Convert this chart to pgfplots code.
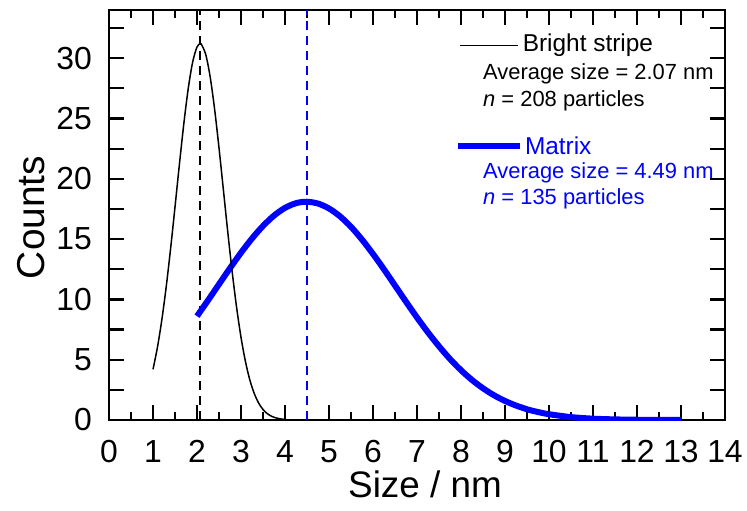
\documentclass[border=0pt]{standalone}
\usepackage{pgfplots}
\pgfplotsset{compat=1.18}
\usepackage{fontspec}
\setmainfont{Liberation Sans}

\definecolor{matblue}{RGB}{0,0,255}

\begin{document}
\begin{tikzpicture}
\begin{axis}[
  scale only axis, width=616bp, height=410bp,
  xmin=0, xmax=14, ymin=0, ymax=34,
  xtick={0,...,14}, minor x tick num=1,
  ytick={0,2.5,...,32.5}, yticklabels={0,,5,,10,,15,,20,,25,,30,},
  tick align=inside, major tick length=15bp, minor tick length=8bp,
  axis line style={line width=2.5bp},
  tick style={line width=2.2bp, black},
  ticklabel style={font=\fontsize{32}{34}\selectfont},
  xticklabel style={anchor=north, inner sep=0pt, yshift=-20bp},
  yticklabel style={anchor=east, inner sep=0pt, xshift=-17bp},
  /pgf/number format/assume math mode=true,
  xlabel={Size / nm}, ylabel={Counts},
  xlabel style={font=\fontsize{37}{40}\selectfont, at={(axis description cs:0.513,-0.19)}, anchor=base},
  ylabel style={font=\fontsize{39}{42}\selectfont, at={(axis description cs:-0.104,0.494)}, anchor=base},
]
% mean markers
\addplot[black, line width=2bp, dash pattern=on 9bp off 6bp] coordinates {(2.07,0) (2.07,34)};
\addplot[matblue, line width=2bp, dash pattern=on 9bp off 6bp] coordinates {(4.49,0) (4.49,34)};

% matrix fit
\addplot[matblue, line width=6bp, smooth] coordinates {
(2.00,8.61) (2.25,9.92) (2.50,11.26) (2.75,12.59) (3.00,13.87) (3.25,15.05)
(3.50,16.09) (3.75,16.95) (4.00,17.59) (4.25,17.98) (4.49,18.10) (4.75,17.95)
(5.00,17.54) (5.25,16.89) (5.50,16.02) (5.75,14.96) (6.00,13.77) (6.25,12.49)
(6.50,11.15) (6.75,9.81) (7.00,8.50) (7.25,7.26) (7.50,6.11) (7.75,5.06)
(8.00,4.13) (8.25,3.32) (8.50,2.63) (8.75,2.05) (9.00,1.58) (9.25,1.20)
(9.50,0.89) (9.75,0.66) (10.00,0.48) (10.50,0.24) (11.00,0.11) (11.50,0.05)
(12.00,0.02) (12.50,0.01) (13.00,0.00)};

% bright stripe fit
\addplot[black, line width=1.5bp, smooth] coordinates {
(1.0,4.20) (1.1,6.01) (1.2,8.29) (1.3,11.04) (1.4,14.21) (1.5,17.66)
(1.6,21.19) (1.7,24.55) (1.8,27.46) (1.9,29.66) (2.0,30.93) (2.07,31.20)
(2.1,31.15) (2.2,30.29) (2.3,28.44) (2.4,25.78) (2.5,22.57) (2.6,19.08)
(2.7,15.57) (2.8,12.27) (2.9,9.34) (3.0,6.86) (3.1,4.87) (3.2,3.33)
(3.3,2.21) (3.4,1.41) (3.5,0.87) (3.6,0.52) (3.7,0.30) (3.8,0.17)
(3.9,0.09) (4.0,0.05)};

% legend
\draw[black, line width=1.5bp] (axis cs:7.98,31.07) -- (axis cs:9.30,31.07);
\node[anchor=west, inner sep=0pt, font=\fontsize{24.5}{26}\selectfont] at (axis cs:9.40,31.07) {Bright stripe};
\node[anchor=west, inner sep=0pt, font=\fontsize{22}{24}\selectfont] at (axis cs:8.50,28.67) {Average size = 2.07 nm};
\node[anchor=west, inner sep=0pt, font=\fontsize{22}{24}\selectfont] at (axis cs:8.50,26.43) {\textit{n} = 208 particles};
\draw[matblue, line width=6bp] (axis cs:7.93,22.70) -- (axis cs:9.34,22.70);
\node[anchor=west, inner sep=0pt, text=matblue, font=\fontsize{24.5}{26}\selectfont] at (axis cs:9.45,22.70) {Matrix};
\node[anchor=west, inner sep=0pt, text=matblue, font=\fontsize{22}{24}\selectfont] at (axis cs:8.50,20.46) {Average size = 4.49 nm};
\node[anchor=west, inner sep=0pt, text=matblue, font=\fontsize{22}{24}\selectfont] at (axis cs:8.50,18.31) {\textit{n} = 135 particles};
\end{axis}
\pgfresetboundingbox
\path (-109bp,-91bp) rectangle (638bp,420bp);
\end{tikzpicture}
\end{document}
